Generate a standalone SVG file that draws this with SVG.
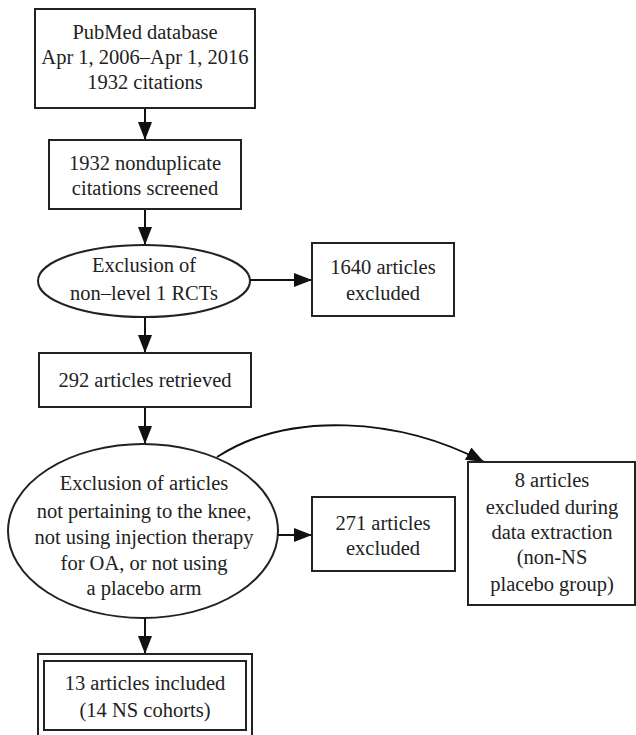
<svg xmlns="http://www.w3.org/2000/svg" width="636" height="735" viewBox="0 0 636 735">
<style>
  .box { fill: #ffffff; stroke: #222222; stroke-width: 2; }
  .lbl { font-family: 'Liberation Serif', 'DejaVu Serif', serif; font-size: 20.5px; fill: #222222; text-anchor: middle; }
  .conn { fill: none; stroke: #111111; stroke-width: 2; }
</style>
<defs>
  <marker id="arr" markerWidth="18" markerHeight="14" refX="18" refY="7" orient="auto" markerUnits="userSpaceOnUse">
    <path d="M0,0 L18,7 L0,14 Z" fill="#111111"/>
  </marker>
</defs>
<rect width="636" height="735" fill="#ffffff"/>

<g id="connectors">
  <line class="conn" x1="145" y1="108" x2="145" y2="140" marker-end="url(#arr)"/>
  <line class="conn" x1="145" y1="209" x2="145" y2="245" marker-end="url(#arr)"/>
  <line class="conn" x1="250" y1="280" x2="312" y2="280" marker-end="url(#arr)"/>
  <line class="conn" x1="145" y1="317" x2="145" y2="353" marker-end="url(#arr)"/>
  <line class="conn" x1="145" y1="407" x2="145" y2="444" marker-end="url(#arr)"/>
  <line class="conn" x1="278" y1="535" x2="312" y2="535" marker-end="url(#arr)"/>
  <line class="conn" x1="145" y1="618" x2="145" y2="654" marker-end="url(#arr)"/>
  <path class="conn" d="M217 457 C290 410, 400 418, 484 462" marker-end="url(#arr)"/>
</g>

<g id="pubmed">
  <rect class="box" x="35" y="9" width="220" height="99"/>
  <text class="lbl" font-family="Liberation Serif" x="145" y="39">PubMed database</text>
  <text class="lbl" font-family="Liberation Serif" x="145" y="64">Apr 1, 2006–Apr 1, 2016</text>
  <text class="lbl" font-family="Liberation Serif" x="145" y="89">1932 citations</text>
</g>

<g id="screened">
  <rect class="box" x="49" y="140" width="192" height="69"/>
  <text class="lbl" x="145" y="170">1932 nonduplicate</text>
  <text class="lbl" x="145" y="195">citations screened</text>
</g>

<g id="exclusion1">
  <ellipse class="box" cx="144" cy="281" rx="106" ry="36"/>
  <text class="lbl" x="144" y="272">Exclusion of</text>
  <text class="lbl" x="144" y="300">non–level 1 RCTs</text>
</g>

<g id="excluded1640">
  <rect class="box" x="312" y="243" width="142" height="73"/>
  <text class="lbl" x="383" y="274">1640 articles</text>
  <text class="lbl" x="383" y="300">excluded</text>
</g>

<g id="retrieved">
  <rect class="box" x="39" y="353" width="212" height="54"/>
  <text class="lbl" x="145" y="387">292 articles retrieved</text>
</g>

<g id="exclusion2">
  <ellipse class="box" cx="143" cy="531" rx="135" ry="87"/>
  <text class="lbl" x="144" y="490">Exclusion of articles</text>
  <text class="lbl" x="144" y="518">not pertaining to the knee,</text>
  <text class="lbl" x="144" y="544">not using injection therapy</text>
  <text class="lbl" x="144" y="570">for OA, or not using</text>
  <text class="lbl" x="144" y="595">a placebo arm</text>
</g>

<g id="excluded271">
  <rect class="box" x="312" y="497" width="143" height="74"/>
  <text class="lbl" x="383" y="530">271 articles</text>
  <text class="lbl" x="383" y="555">excluded</text>
</g>

<g id="excluded8">
  <rect class="box" x="468" y="462" width="167" height="143"/>
  <text class="lbl" x="552" y="487">8 articles</text>
  <text class="lbl" x="552" y="514">excluded during</text>
  <text class="lbl" x="552" y="539">data extraction</text>
  <text class="lbl" x="552" y="564">(non-NS</text>
  <text class="lbl" x="552" y="591">placebo group)</text>
</g>

<g id="included">
  <rect class="box" x="38" y="654" width="214" height="82"/>
  <rect class="box" x="44" y="661" width="202" height="69"/>
  <text class="lbl" x="145" y="690">13 articles included</text>
  <text class="lbl" x="145" y="717">(14 NS cohorts)</text>
</g>
</svg>
